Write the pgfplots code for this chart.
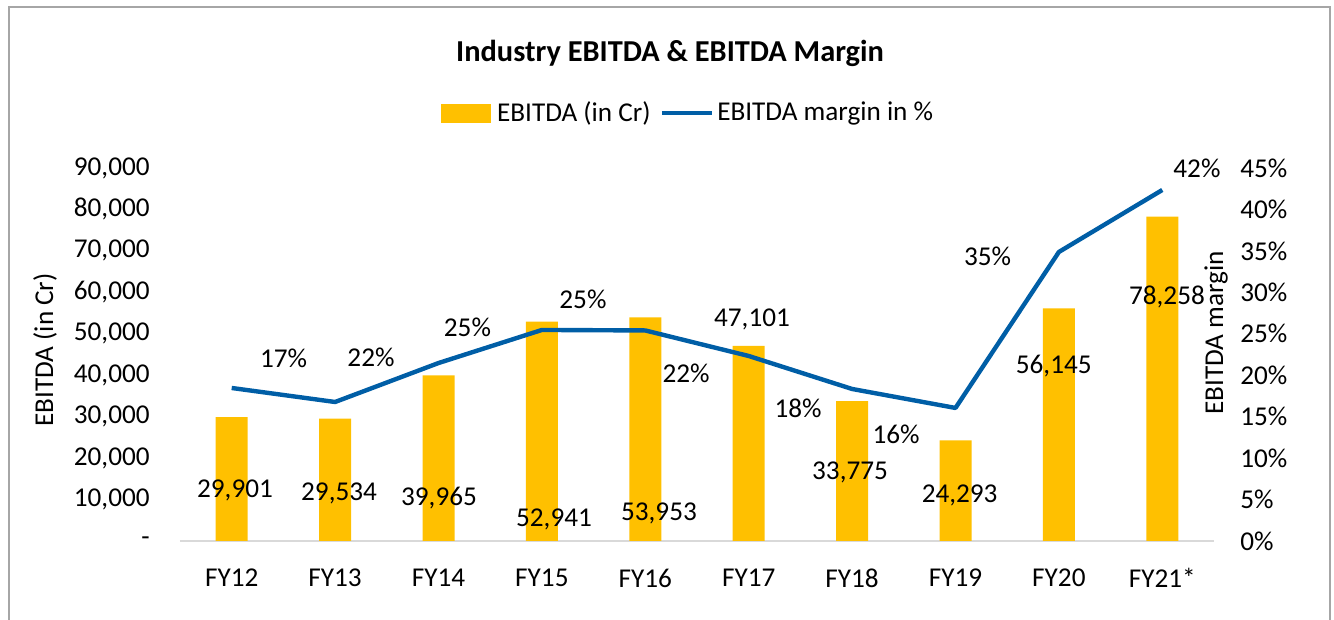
\documentclass[border=0pt]{standalone}
\usepackage{pgfplots}
\pgfplotsset{compat=1.18}
\usepackage{fontspec}
\setmainfont{Carlito}
\definecolor{barc}{HTML}{FFC000}
\definecolor{linec}{HTML}{005EA6}
\definecolor{framec}{HTML}{A6A6A6}
\definecolor{axc}{HTML}{D9D9D9}
\begin{document}
\fontsize{13.6}{16}\selectfont
\begin{tikzpicture}
\useasboundingbox (0,0) rectangle (667pt,310pt);
\draw[framec, line width=1.3pt] (4.5pt,-2pt) -- (4.5pt,306.5pt) -- (665pt,306.5pt) -- (665pt,-2pt);
\begin{axis}[
 at={(90pt,39.5pt)}, anchor=south west,
 scale only axis, width=517pt, height=186.5pt,
 xmin=-0.5, xmax=9.5, ymin=0, ymax=90000,
 clip=false, scaled y ticks=false,
 axis x line*=bottom, axis y line*=left,
 x axis line style={-, draw=axc, line width=1pt},
 y axis line style={draw=none},
 major tick length=0pt,
 xtick={0,...,9},
 xticklabels={FY12,FY13,FY14,FY15,FY16,FY17,FY18,FY19,FY20,FY21*},
 ytick={0,10000,20000,30000,40000,50000,60000,70000,80000,90000},
 yticklabels={-,{10,000},{20,000},{30,000},{40,000},{50,000},{60,000},{70,000},{80,000},{90,000}},
 xticklabel style={anchor=center, inner sep=0pt, yshift=-18.5pt},
 yticklabel style={anchor=east, inner sep=0pt, xshift=-15pt},
 ylabel={EBITDA (in Cr)},
 ylabel style={at={(axis description cs:-0.1306,0.512)}, anchor=center},
 /pgf/number format/assume math mode=true,
]
\addplot[ybar, bar width=16pt, fill=barc, draw=none] coordinates {
 (0,29901) (1,29534) (2,39965) (3,52941) (4,53953)
 (5,47101) (6,33775) (7,24293) (8,56145) (9,78258)};
\addplot[draw=none, mark=none, forget plot, nodes near coords, point meta=explicit symbolic,
 every node near coord/.append style={anchor=center, inner sep=0pt}]
 table[meta=lab, row sep=\\] {
 x y lab\\
 0.032 12306 29,901\\
 1.038 11582 29,534\\
 2.005 10375 39,965\\
 3.117 5308 52,941\\
 4.132 6756 53,953\\
 5.032 53566 47,101\\
 5.980 16649 33,775\\
 7.040 11099 24,293\\
 7.950 42226 56,145\\
 9.045 58875 78,258\\
 0.502 44156 17\%\\
 1.347 44397 22\%\\
 2.280 51636 25\%\\
 3.397 58392 25\%\\
 4.394 40537 22\%\\
 5.477 32092 18\%\\
 6.425 25818 16\%\\
 7.310 68768 35\%\\
 9.335 89900 42\%\\
 };
\end{axis}
\begin{axis}[
 at={(90pt,39.5pt)}, anchor=south west,
 scale only axis, width=517pt, height=186.5pt,
 xmin=-0.5, xmax=9.5, ymin=0, ymax=45,
 clip=false,
 hide x axis, axis y line*=right,
 y axis line style={draw=none},
 major tick length=0pt,
 ytick={0,5,10,15,20,25,30,35,40,45},
 yticklabels={0\%,5\%,10\%,15\%,20\%,25\%,30\%,35\%,40\%,45\%},
 yticklabel style={anchor=west, inner sep=0pt, xshift=13pt},
 ylabel={EBITDA margin},
 ylabel style={at={(axis description cs:1.002,0.558)}, anchor=center},
 /pgf/number format/assume math mode=true,
 legend columns=2,
 legend style={draw=none, fill=none, at={(0.492,1.147)}, anchor=center,
   /tikz/every even column/.append style={column sep=3pt},
   nodes={inner sep=1.5pt}},
]
\addlegendimage{legend image code/.code={\fill[barc] (0pt,-4.5pt) rectangle (24.5pt,4.5pt); \path (26pt,0pt);}}
\addlegendentry{EBITDA (in Cr)}
\addlegendimage{legend image code/.code={\draw[linec,line width=2.2pt] (0pt,0pt) -- (25pt,0pt); \path (26pt,0pt);}}
\addlegendentry{EBITDA margin in \%}
\addplot[linec, line width=2.2pt, line join=round, mark=none, forget plot] coordinates {
 (0,18.46) (1,16.77) (2,21.47) (3,25.46) (4,25.40)
 (5,22.32) (6,18.34) (7,16.05) (8,34.87) (9,42.35)};
\end{axis}
\node[font=\bfseries\fontsize{15.2}{18}\selectfont] at (335pt,283.5pt) {Industry EBITDA \& EBITDA Margin};
\end{tikzpicture}
\end{document}
